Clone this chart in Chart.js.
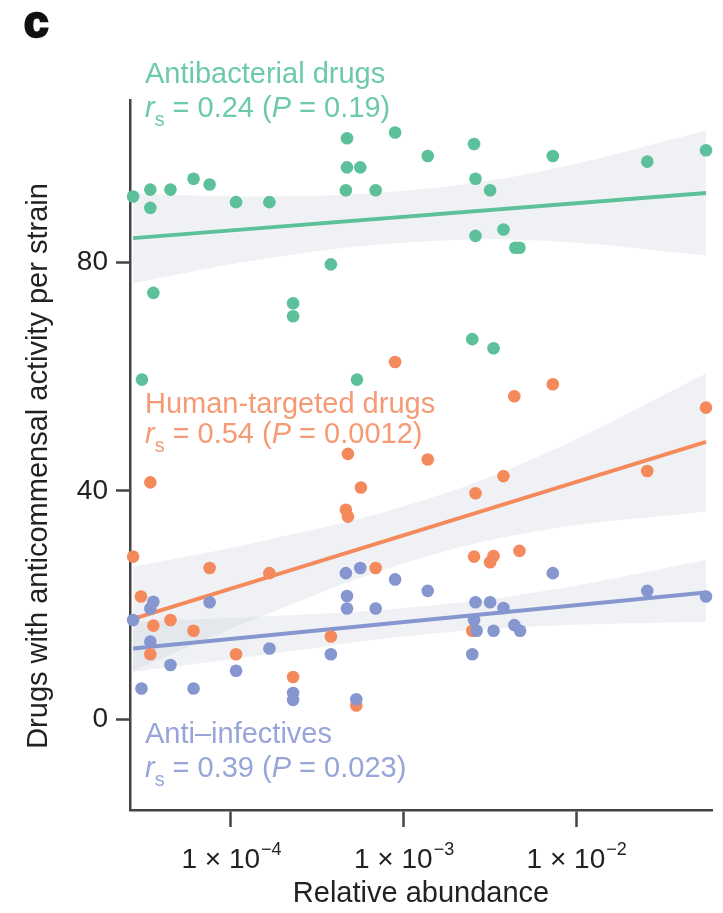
<!DOCTYPE html>
<html>
<head>
<meta charset="utf-8">
<script src="https://cdn.jsdelivr.net/npm/chart.js@4.4.1/dist/chart.umd.min.js"></script>
<style>
  html, body { margin: 0; padding: 0; background: #fff; }
  #grafico { display: block; }
</style>
</head>
<body>
<canvas id="grafico" width="723" height="913"></canvas>
<script>
// Valores (abundância relativa x número de drogas)
const antibacterianoX = [2.71e-5, 3.41e-5, 3.41e-5, 4.46e-5, 6.07e-5, 7.52e-5, 1.07e-4, 1.67e-4, 4.70e-4, 4.70e-4, 5.61e-4,
  4.63e-4, 6.89e-4, 8.93e-4, 3.55e-5, 3.79e-4, 2.29e-4, 2.29e-4, 2.56e-3, 1.38e-3, 7.32e-3, 2.58e-2, 5.65e-2,
  2.61e-3, 3.17e-3, 2.61e-3, 3.79e-3, 4.44e-3, 4.69e-3, 2.50e-3, 3.32e-3, 3.05e-5, 5.37e-4];
const antibacterianoY = [91.6, 92.8, 89.6, 92.8, 94.7, 93.7, 90.6, 90.6, 101.8, 96.7, 96.7,
  92.7, 92.7, 102.8, 74.7, 79.7, 72.9, 70.6, 100.8, 98.7, 98.7, 97.7, 99.7,
  94.7, 92.7, 84.7, 85.8, 82.6, 82.6, 66.6, 65.0, 59.5, 59.5];

const humanoX = [5.65e-2, 2.58e-2, 7.32e-3, 4.38e-3, 8.93e-4, 1.38e-3, 3.79e-3, 2.61e-3, 4.76e-4, 5.66e-4, 4.63e-4,
  4.76e-4, 3.41e-5, 2.71e-5, 7.52e-5, 1.67e-4, 6.89e-4, 3.01e-5, 4.46e-5, 3.55e-5, 6.07e-5, 3.41e-5,
  3.79e-4, 1.07e-4, 2.29e-4, 5.32e-4, 2.56e-3, 3.32e-3, 3.17e-3, 4.69e-3, 2.50e-3];
const humanoY = [54.6, 43.5, 58.7, 56.6, 62.6, 45.5, 42.6, 39.6, 46.5, 40.6, 36.7,
  35.5, 41.5, 28.5, 26.5, 25.6, 26.5, 21.5, 17.4, 16.4, 15.5, 11.4,
  14.5, 11.4, 7.4, 2.4, 28.5, 28.6, 27.5, 29.5, 15.5];

const antiinfecX = [4.63e-4, 5.61e-4, 8.93e-4, 3.55e-5, 3.41e-5, 7.52e-5, 4.70e-4, 4.70e-4, 6.89e-4, 2.71e-5, 3.41e-5,
  1.67e-4, 3.79e-4, 4.46e-5, 1.07e-4, 2.29e-4, 2.29e-4, 3.03e-5, 6.07e-5, 5.32e-4, 7.32e-3, 1.38e-3,
  2.58e-2, 5.65e-2, 2.61e-3, 3.17e-3, 3.79e-3, 2.56e-3, 2.65e-3, 3.32e-3, 4.38e-3, 4.73e-3, 2.50e-3];
const antiinfecY = [25.6, 26.5, 24.5, 20.6, 19.4, 20.5, 21.6, 19.4, 19.4, 17.4, 13.6,
  12.4, 11.4, 9.5, 8.5, 4.6, 3.4, 5.4, 5.4, 3.5, 25.6, 22.5,
  22.5, 21.5, 20.5, 20.5, 19.5, 17.4, 15.5, 15.5, 16.5, 15.5, 11.4];

// Retas de regressão (extremos)
const retaX = [2.71e-5, 5.65e-2];
const retaAntibacteriano = [84.3, 92.2];
const retaHumano = [17.6, 48.6];
const retaAntiinfec = [12.4, 22.2];

// Faixas de confiança (bordas)
const faixaX = [2.71e-5, 1.5e-4, 1e-3, 6e-3, 5.65e-2];
const faixaAntibacSup = [92.1, 91.6, 92.6, 95.9, 103.1];
const faixaAntibacInf = [76.4, 80.6, 83.5, 83.9, 81.3];
const faixaHumanoSup = [26.7, 31.2, 37.3, 46.0, 60.6];
const faixaHumanoInf = [8.5, 18.0, 27.3, 33.0, 36.4];
const faixaAntiinfecSup = [17.1, 18.0, 19.5, 22.3, 27.9];
const faixaAntiinfecInf = [8.3, 11.2, 14.5, 16.3, 17.1];

const ticksX = [1e-4, 1e-3, 1e-2];
const rotulosX = [['1 \u00d7 10', '\u22124'], ['1 \u00d7 10', '\u22123'], ['1 \u00d7 10', '\u22122']];
const ticksY = [0, 40, 80];

const verde = '#5cc09b';
const laranja = '#f4895c';
const azul = '#8696cf';
const fonte = '"Liberation Sans", Arial, Helvetica, sans-serif';

function pares(xs, ys) {
  let lista = [];
  for (let i = 0; i < xs.length; i++) {
    lista.push({ x: xs[i], y: ys[i] });
  }
  return lista;
}

function pontos(rotulo, xs, ys, cor, ordem) {
  return {
    type: 'scatter', label: rotulo, data: pares(xs, ys),
    backgroundColor: cor, borderWidth: 0, pointRadius: 6.3, clip: false, order: ordem
  };
}

function reta(rotulo, ys, cor) {
  return {
    type: 'line', label: rotulo, data: pares(retaX, ys),
    borderColor: cor, borderWidth: 4, pointRadius: 0, fill: false, order: 5
  };
}

function faixa(rotulo, ys, preenche) {
  return {
    type: 'line', label: rotulo, data: pares(faixaX, ys),
    borderWidth: 0, borderColor: 'rgba(0,0,0,0)', pointRadius: 0, tension: 0.4,
    fill: preenche, backgroundColor: 'rgba(205,211,222,0.32)', order: 10
  };
}

// Escreve textos com partes em itálico / subscrito
function textoRico(ctx, partes, x, y, cor, tam) {
  ctx.fillStyle = cor;
  ctx.textBaseline = 'alphabetic';
  ctx.textAlign = 'left';
  let px = x;
  partes.forEach(function (p) {
    let t = p.sub ? tam * 0.68 : tam;
    ctx.font = (p.it ? 'italic ' : '') + t + 'px ' + fonte;
    ctx.fillText(p.t, px, p.sub ? y + tam * 0.3 : y);
    px += ctx.measureText(p.t).width;
  });
}

function linhaRs(r, p) {
  return [
    { t: 'r', it: true }, { t: 's', sub: true }, { t: ' = ' + r + ' (' },
    { t: 'P', it: true }, { t: ' = ' + p + ')' }
  ];
}

const TAM = 29;

const plugTextos = {
  id: 'textos',
  afterDraw(chart) {
    const ctx = chart.ctx;
    const escX = chart.scales.x;
    ctx.save();

    // letra do painel
    ctx.fillStyle = '#111';
    ctx.strokeStyle = '#111';
    ctx.lineWidth = 2.5;
    ctx.font = 'bold 44px ' + fonte;
    ctx.textAlign = 'left';
    ctx.textBaseline = 'alphabetic';
    ctx.fillText('c', 24, 37);
    ctx.strokeText('c', 24, 37);

    // rótulos das séries
    ctx.font = TAM + 'px ' + fonte;
    ctx.fillStyle = '#6ccaa8';
    ctx.fillText('Antibacterial drugs', 145, 83);
    textoRico(ctx, linhaRs('0.24', '0.19'), 145, 117, '#6ccaa8', TAM);

    ctx.font = TAM + 'px ' + fonte;
    ctx.fillStyle = '#f59a74';
    ctx.fillText('Human-targeted drugs', 145, 413);
    textoRico(ctx, linhaRs('0.54', '0.0012'), 145, 443, '#f59a74', TAM);

    ctx.font = TAM + 'px ' + fonte;
    ctx.fillStyle = '#97a5d8';
    ctx.fillText('Anti\u2013infectives', 145, 743);
    textoRico(ctx, linhaRs('0.39', '0.023'), 145, 777, '#97a5d8', TAM);

    // rótulos do eixo x com expoente
    for (let i = 0; i < ticksX.length; i++) {
      let base = rotulosX[i][0];
      let exp = rotulosX[i][1];
      ctx.font = '28px ' + fonte;
      let lb = ctx.measureText(base).width;
      ctx.font = '18px ' + fonte;
      let le = ctx.measureText(exp).width;
      let cx = escX.getPixelForValue(ticksX[i]);
      let x0 = cx - (lb + le) / 2;
      ctx.fillStyle = '#222';
      ctx.font = '28px ' + fonte;
      ctx.fillText(base, x0, 868);
      ctx.font = '18px ' + fonte;
      ctx.fillText(exp, x0 + lb + 1, 855);
    }

    // títulos dos eixos
    ctx.fillStyle = '#222';
    ctx.font = TAM + 'px ' + fonte;
    ctx.textAlign = 'center';
    ctx.fillText('Relative abundance', 421, 902);

    ctx.translate(47, 466);
    ctx.rotate(-Math.PI / 2);
    ctx.fillText('Drugs with anticommensal activity per strain', 0, 0);
    ctx.restore();
  }
};

const config = {
  data: {
    datasets: [
      faixa('banda antibac sup', faixaAntibacSup, false),
      faixa('banda antibac inf', faixaAntibacInf, '-1'),
      faixa('banda humano sup', faixaHumanoSup, false),
      faixa('banda humano inf', faixaHumanoInf, '-1'),
      faixa('banda antiinfec sup', faixaAntiinfecSup, false),
      faixa('banda antiinfec inf', faixaAntiinfecInf, '-1'),
      reta('reta antibac', retaAntibacteriano, verde),
      reta('reta humano', retaHumano, laranja),
      reta('reta antiinfec', retaAntiinfec, azul),
      pontos('Antibacterial drugs', antibacterianoX, antibacterianoY, verde, 2),
      pontos('Anti-infectives', antiinfecX, antiinfecY, azul, 0),
      pontos('Human-targeted drugs', humanoX, humanoY, laranja, 1)
    ]
  },
  options: {
    responsive: false,
    animation: false,
    devicePixelRatio: 1,
    layout: { padding: { top: 100, right: 11, left: 0, bottom: 0 } },
    plugins: { legend: { display: false }, tooltip: { enabled: false } },
    scales: {
      x: {
        type: 'logarithmic',
        min: 2.6e-5,
        max: 0.0612,
        afterBuildTicks: function (eixo) { eixo.ticks = ticksX.map(v => ({ value: v })); },
        afterFit: function (eixo) { eixo.height = 103; },
        ticks: { display: false },
        grid: { display: true, drawOnChartArea: false, drawTicks: true, tickLength: 17, tickWidth: 2.5, tickColor: '#444' },
        border: { display: true, color: '#444', width: 2.5 }
      },
      y: {
        type: 'linear',
        min: -15.9,
        max: 108.5,
        afterBuildTicks: function (eixo) { eixo.ticks = ticksY.map(v => ({ value: v })); },
        afterFit: function (eixo) { eixo.width = 130; },
        ticks: { color: '#222', padding: 8, font: { size: 28, family: fonte } },
        grid: { display: true, drawOnChartArea: false, drawTicks: true, tickLength: 14, tickWidth: 2.5, tickColor: '#444' },
        border: { display: true, color: '#444', width: 2.5 }
      }
    }
  },
  plugins: [plugTextos]
};

let meuGrafico = new Chart(document.getElementById('grafico'), config);
</script>
</body>
</html>
